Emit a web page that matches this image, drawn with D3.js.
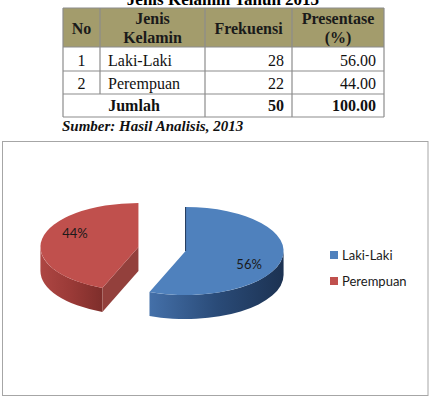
<!DOCTYPE html>
<html>
<head>
<meta charset="utf-8">
<script src="https://cdn.jsdelivr.net/npm/d3@7"></script>
<style>
  body { margin: 0; background: #fff; }
  svg { display: block; }
</style>
</head>
<body>
<script>
// data
const categories = ["Laki-Laki", "Perempuan"];
const frekuensi = [28, 22];
const presentase = [56.00, 44.00];
const rowNumbers = ["1", "2"];
const headers = [["No"], ["Jenis", "Kelamin"], ["Frekuensi"], ["Presentase", "(%)"]];
const totalLabel = "Jumlah";
const totalFrek = 50;
const totalPersen = 100.00;
const title = "Jenis Kelamin Tahun 2013";
const source = "Sumber: Hasil Analisis, 2013";

const W = 431, H = 398;
const serif = "'Liberation Serif', 'Times New Roman', serif";
const sans = "Lato, 'Open Sans', sans-serif";

const svg = d3.select("body").append("svg")
  .attr("width", W)
  .attr("height", H);

drawTable();
drawChart();

// ---------- table ----------
function drawTable() {
  const colEdges = [63, 100, 205, 292, 384];
  const rowEdges = [8, 47, 71, 94, 117];
  const g = svg.append("g");

  g.append("text")
    .attr("x", 223).attr("y", 5)
    .attr("text-anchor", "middle")
    .style("font-family", serif).style("font-weight", "bold").style("font-size", "17px")
    .text(title);

  // header background
  g.append("rect")
    .attr("x", colEdges[0]).attr("y", rowEdges[0])
    .attr("width", colEdges[4] - colEdges[0]).attr("height", rowEdges[1] - rowEdges[0])
    .attr("fill", "#a39c6c");

  // header text
  headers.forEach(function(lines, i) {
    const cx = (colEdges[i] + colEdges[i + 1]) / 2;
    const t = g.append("text")
      .attr("text-anchor", "middle")
      .style("font-family", serif).style("font-weight", "bold").style("font-size", "16px")
      .attr("fill", "#1a1a1a");
    if (lines.length === 1) {
      t.append("tspan").attr("x", cx).attr("y", 34).text(lines[0]);
    } else {
      t.append("tspan").attr("x", cx).attr("y", 24).text(lines[0]);
      t.append("tspan").attr("x", cx).attr("y", 43).text(lines[1]);
    }
  });

  // body rows
  const baselines = [66, 89];
  categories.forEach(function(c, i) {
    const y = baselines[i];
    const txt = function(x, anchor, s, bold) {
      g.append("text").attr("x", x).attr("y", y)
        .attr("text-anchor", anchor)
        .style("font-family", serif).style("font-size", "16px")
        .style("font-weight", bold ? "bold" : "normal")
        .attr("fill", "#111")
        .text(s);
    };
    txt((colEdges[0] + colEdges[1]) / 2, "middle", rowNumbers[i]);
    txt(colEdges[1] + 8, "start", c);
    txt(colEdges[3] - 8, "end", frekuensi[i]);
    txt(colEdges[4] - 8, "end", presentase[i].toFixed(2));
  });

  // total row
  const ty = 111;
  const bold = function(x, anchor, s) {
    g.append("text").attr("x", x).attr("y", ty)
      .attr("text-anchor", anchor)
      .style("font-family", serif).style("font-size", "16px").style("font-weight", "bold")
      .attr("fill", "#111")
      .text(s);
  };
  bold((colEdges[0] + colEdges[2]) / 2, "middle", totalLabel);
  bold(colEdges[3] - 8, "end", totalFrek);
  bold(colEdges[4] - 8, "end", totalPersen.toFixed(2));

  // grid lines
  const lineColor = "#8c8c8c";
  const hl = function(y, x1, x2, col) {
    g.append("line").attr("x1", x1).attr("x2", x2).attr("y1", y).attr("y2", y)
      .attr("stroke", col || lineColor).attr("stroke-width", 1.2);
  };
  const vl = function(x, y1, y2, col) {
    g.append("line").attr("x1", x).attr("x2", x).attr("y1", y1).attr("y2", y2)
      .attr("stroke", col || lineColor).attr("stroke-width", 1.2);
  };
  rowEdges.forEach(function(y) { hl(y, colEdges[0], colEdges[4]); });
  vl(colEdges[0], rowEdges[0], rowEdges[4]);
  vl(colEdges[4], rowEdges[0], rowEdges[4]);
  vl(colEdges[1], rowEdges[0], rowEdges[3]);
  vl(colEdges[2], rowEdges[0], rowEdges[4]);
  vl(colEdges[3], rowEdges[0], rowEdges[4]);

  g.append("text")
    .attr("x", 62).attr("y", 131)
    .style("font-family", serif).style("font-weight", "bold").style("font-style", "italic")
    .style("font-size", "15px")
    .attr("fill", "#111")
    .text(source);
}

// ---------- 3D pie ----------
function drawChart() {
  svg.append("rect")
    .attr("x", 2.5).attr("y", 141.5)
    .attr("width", 425.5).attr("height", 254)
    .attr("fill", "#fff")
    .attr("stroke", "#a6a6a6");

  const cx = 162, cy = 249, rx = 98, ry = 44, depth = 24, explode = 24;
  const topColor = ["#4f81bd", "#c0504d"];
  const wallStops = [["#4470a9", "#2a4b78", "#1c3252"], ["#ad4643", "#9a3a37", "#7e2e2b"]];
  const cutColor = ["#2f5485", "#93403c"];

  const defs = svg.append("defs");
  wallStops.forEach(function(stops, i) {
    const lg = defs.append("linearGradient").attr("id", "wall" + i)
      .attr("x1", "0").attr("x2", "1").attr("y1", "0").attr("y2", "0");
    lg.selectAll("stop").data(stops).enter().append("stop")
      .attr("offset", function(d, k) { return k / (stops.length - 1); })
      .attr("stop-color", function(d) { return d; });
  });

  const pie = d3.pie().sort(null).startAngle(0).endAngle(2 * Math.PI);
  const arcs = pie(frekuensi);

  const g = svg.append("g");

  // draw the back slice (Perempuan) first
  [1, 0].forEach(function(i) {
    const d = arcs[i];
    const mid = (d.startAngle + d.endAngle) / 2;
    const ox = cx + explode * Math.sin(mid);
    const oy = cy - explode * Math.cos(mid) * ry / rx;
    const pt = function(a, dz) {
      return [ox + rx * Math.sin(a), oy - ry * Math.cos(a) + (dz || 0)];
    };
    const sg = g.append("g");

    // outer wall, front half only
    const b1 = Math.max(d.startAngle, Math.PI / 2);
    const b2 = Math.min(d.endAngle, 3 * Math.PI / 2);
    if (b2 > b1) {
      const p1 = pt(b1), p2 = pt(b2), q2 = pt(b2, depth), q1 = pt(b1, depth);
      sg.append("path")
        .attr("d", `M${p1}A${rx},${ry} 0 0 1 ${p2}L${q2}A${rx},${ry} 0 0 0 ${q1}Z`)
        .attr("fill", "url(#wall" + i + ")");
    }

    // cut face at start angle, visible when it faces the viewer
    if (Math.cos(d.startAngle) < 0 && d.startAngle > 0) {
      const p = pt(d.startAngle);
      sg.append("path")
        .attr("d", `M${ox},${oy}L${p}L${p[0]},${p[1] + depth}L${ox},${oy + depth}Z`)
        .attr("fill", cutColor[i]);
    }

    // top face
    const a1 = pt(d.startAngle), a2 = pt(d.endAngle);
    const large = (d.endAngle - d.startAngle) > Math.PI ? 1 : 0;
    sg.append("path")
      .attr("d", `M${ox},${oy}L${a1}A${rx},${ry} 0 ${large} 1 ${a2}Z`)
      .attr("fill", topColor[i]);

    // start edge seen edge-on
    if (d.startAngle === 0) {
      sg.append("line")
        .attr("x1", ox).attr("y1", oy).attr("x2", a1[0]).attr("y2", a1[1])
        .attr("stroke", "#1f3658").attr("stroke-width", 1);
    }

    // data label
    const la = mid + 15 * Math.PI / 180;
    sg.append("text")
      .attr("x", ox + 0.72 * rx * Math.sin(la))
      .attr("y", oy - 0.72 * ry * Math.cos(la))
      .attr("dy", "0.35em")
      .attr("text-anchor", "middle")
      .style("font-family", sans).style("font-size", "13px")
      .attr("fill", "#1a1a1a")
      .text(Math.round(presentase[i]) + "%");
  });

  // legend
  const legend = svg.selectAll(".legend")
    .data(categories)
    .enter().append("g")
    .attr("class", "legend")
    .attr("transform", function(d, i) { return `translate(330, ${251 + i * 26})`; });
  legend.append("rect")
    .attr("width", 8).attr("height", 8)
    .attr("fill", function(d, i) { return topColor[i]; });
  legend.append("text")
    .attr("x", 12).attr("y", 4)
    .attr("dy", "0.35em")
    .style("font-family", sans).style("font-size", "13px")
    .attr("fill", "#1a1a1a")
    .text(function(d) { return d; });
}
</script>
</body>
</html>
